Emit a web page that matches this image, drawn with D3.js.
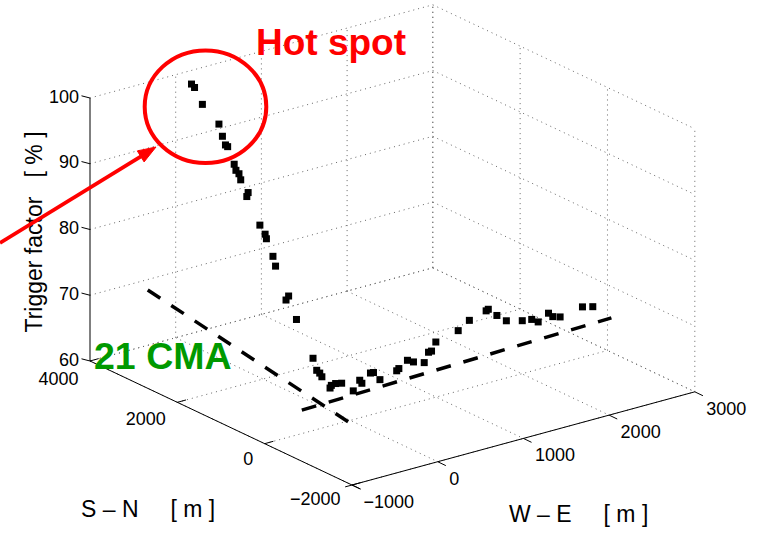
<!DOCTYPE html>
<html>
<head>
<meta charset="utf-8">
<script src="https://cdn.jsdelivr.net/npm/d3@7"></script>
<style>
  html, body { margin: 0; padding: 0; background: #fff; }
  svg { display: block; font-family: "Liberation Sans", Arial, Helvetica, sans-serif; }
</style>
</head>
<body>
<svg id="chart" width="762" height="533"></svg>
<script>
// Trigger factor along the surveyed profile
// position W–E [m], position S–N [m], trigger factor [%]
const weValues = [-50, -40, -30, 0, 0, 10, 10, 20, 20, 30, 30, 40, 40, 60, 70, 70, 80, 90, 110, 100, 120, 150,
  20, 50, 70, 150, 160, 200, 260, 370, 430, 450, 530, 560, 620, 780, 800, 880, 940, 1040, 1080, 1110, 1150,
  1360, 1470, 1630, 1650, 1730, 1820, 1970, 2060, 2120, 2220, 2260, 2330, 2540, 2640];
const snValues = [3540, 3490, 3330, 3010, 2930, 2880, 2830, 2700, 2660, 2610, 2570, 2420, 2450, 2190, 2090, 2060, 1930, 1890, 1630, 1670, 1470, 1150,
  810, 800, 790, 760, 750, 730, 710, 660, 630, 620, 580, 570, 540, 470, 460, 420, 400, 350, 330, 320, 300,
  200, 160, 90, 80, 40, 0, -70, -110, -140, -180, -200, -230, -330, -370];
const tfValues = [100.2, 99.8, 97.7, 95.6, 94.0, 92.8, 92.7, 90.4, 89.6, 89.2, 88.4, 86.9, 86.2, 82.6, 81.5, 80.9, 78.6, 77.2, 73.4, 72.7, 70.3, 65.3,
  65.0, 64.5, 63.9, 62.0, 62.4, 62.6, 62.5, 61.1, 62.6, 62.1, 63.5, 63.5, 62.3, 63.3, 63.6, 64.7, 64.3, 64.0, 65.5, 65.6, 66.9,
  68.2, 69.5, 70.6, 70.8, 69.7, 68.7, 68.4, 68.4, 67.9, 69.0, 68.4, 68.2, 69.3, 69.1];

// ground traces on the floor of the box (dashed)
const traceAWE = [540, -40];
const traceASN = [5700, -40];
const traceBWE = [-200, 3540];
const traceBSN = [720, 970];

// axis limits and ticks
const weDomain = [-1000, 3000];
const snDomain = [4000, -2000];
const tfDomain = [60, 100];
const weTicks = [-1000, 0, 1000, 2000, 3000];
const snTicks = [-2000, 0, 2000, 4000];
const tfTicks = [60, 70, 80, 90, 100];

const svg = d3.select("#chart");

// oblique 3-D view: each data axis contributes a screen offset
const origin = [90, 361];
const weX = d3.scaleLinear().domain(weDomain).range([0, 342.8]);
const weY = d3.scaleLinear().domain(weDomain).range([0, -93.2]);
const snX = d3.scaleLinear().domain(snDomain).range([0, 262.02]);
const snY = d3.scaleLinear().domain(snDomain).range([0, 124.02]);
const tfY = d3.scaleLinear().domain(tfDomain).range([0, -263]);

function P(we, sn, tf) {
  return [origin[0] + weX(we) + snX(sn), origin[1] + weY(we) + snY(sn) + tfY(tf)];
}

const line = d3.line();
const sp = n => "\u00A0".repeat(n);

// dotted grid on the back walls and floor
const grid = svg.append("g")
  .attr("fill", "none")
  .attr("stroke", "#666")
  .attr("stroke-width", 1)
  .attr("stroke-dasharray", "1,4");
const gridSegs = [];
weTicks.filter(w => w > weDomain[0]).forEach(w => gridSegs.push([P(w, 4000, 60), P(w, 4000, 100)]));
tfTicks.forEach(t => gridSegs.push([P(-1000, 4000, t), P(3000, 4000, t)]));
snTicks.forEach(s => gridSegs.push([P(3000, s, 60), P(3000, s, 100)]));
tfTicks.forEach(t => gridSegs.push([P(3000, 4000, t), P(3000, -2000, t)]));
weTicks.forEach(w => gridSegs.push([P(w, 4000, 60), P(w, -2000, 60)]));
snTicks.forEach(s => gridSegs.push([P(-1000, s, 60), P(3000, s, 60)]));
grid.selectAll("path").data(gridSegs).join("path").attr("d", d => line(d));

// axis lines
const axes = svg.append("g").attr("stroke", "#000").attr("stroke-width", 1).attr("fill", "none");
axes.append("path").attr("d", line([P(-1000, 4000, 60), P(-1000, 4000, 100)]));
axes.append("path").attr("d", line([P(-1000, 4000, 60), P(-1000, -2200, 60)]));
axes.append("path").attr("d", line([P(-1080, -2000, 60), P(3000, -2000, 60)]));

// tick marks
const fmt = d3.format("d");
tfTicks.forEach(t => {
  const p = P(-1000, 4000, t);
  axes.append("path").attr("d", line([p, [p[0] - 8.5, p[1] - 2.2]]));
});
snTicks.forEach(s => {
  const p = P(-1000, s, 60);
  axes.append("path").attr("d", line([p, [p[0] + 8.7, p[1] - 2.4]]));
});
weTicks.forEach(w => {
  const p = P(w, -2000, 60);
  axes.append("path").attr("d", line([p, [p[0] + 8.1, p[1] + 3.9]]));
});

// tick labels
const labels = svg.append("g").attr("font-size", 18).attr("fill", "#000");
const snLabelDrop = d3.scaleLinear().domain(snDomain).range([24, 20]);
tfTicks.forEach(t => {
  const p = P(-1000, 4000, t);
  labels.append("text").attr("x", p[0] - 11).attr("y", p[1] + 4.5).attr("text-anchor", "end").text(fmt(t));
});
snTicks.forEach(s => {
  const p = P(-1000, s, 60);
  labels.append("text").attr("x", p[0] - 11.5).attr("y", p[1] + snLabelDrop(s)).attr("text-anchor", "end").text(fmt(s));
});
weTicks.forEach(w => {
  const p = P(w, -2000, 60);
  labels.append("text").attr("x", p[0] + 11.5).attr("y", p[1] + 23).attr("text-anchor", "start").text(fmt(w));
});

// axis titles
const titles = svg.append("g").attr("font-size", 23).attr("fill", "#000");
titles.append("text").attr("transform", "translate(42,232) rotate(-90)").attr("text-anchor", "middle")
  .text("Trigger factor" + sp(3) + "[ % ]");
titles.append("text").attr("x", 81).attr("y", 517).text("S \u2013 N" + sp(5) + "[ m ]");
titles.append("text").attr("x", 509).attr("y", 522).text("W \u2013 E" + sp(5) + "[ m ]");

// dashed ground traces
const traces = [
  traceAWE.map((w, i) => P(w, traceASN[i], 60)),
  traceBWE.map((w, i) => P(w, traceBSN[i], 60))
];
svg.append("g").selectAll("path").data(traces).join("path")
  .attr("d", d => line(d))
  .attr("fill", "none").attr("stroke", "#000").attr("stroke-width", 3.5)
  .attr("stroke-dasharray", "15,13.1");

// measurement points
const pts = weValues.map((w, i) => P(w, snValues[i], tfValues[i]));
svg.append("g").selectAll("rect").data(pts).join("rect")
  .attr("x", d => d[0] - 3.5).attr("y", d => d[1] - 3.5)
  .attr("width", 7).attr("height", 7).attr("fill", "#000");

// annotations
const ann = svg.append("g");
ann.append("ellipse").attr("cx", 205.5).attr("cy", 106.7).attr("rx", 60.8).attr("ry", 56.3)
  .attr("fill", "none").attr("stroke", "#ff0000").attr("stroke-width", 4);
ann.append("path").attr("d", line([[0, 243], [141, 156.4]]))
  .attr("stroke", "#ff0000").attr("stroke-width", 3.8).attr("fill", "none");
ann.append("path").attr("d", line([[156, 147], [144.1, 161.9], [137.3, 150.9]]) + "Z")
  .attr("fill", "#ff0000").attr("stroke", "#ff0000").attr("stroke-width", 1);
ann.append("text").attr("x", 256).attr("y", 55).attr("font-size", 37).attr("font-weight", "bold")
  .attr("fill", "#ff0000").text("Hot spot");
ann.append("text").attr("x", 94).attr("y", 369).attr("font-size", 37.5).attr("font-weight", "bold")
  .attr("fill", "#009900").text("21 CMA");
</script>
</body>
</html>
